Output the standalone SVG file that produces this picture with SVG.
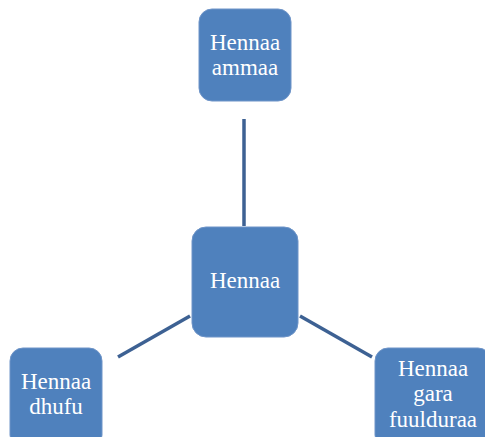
<svg xmlns="http://www.w3.org/2000/svg" width="485" height="437" viewBox="0 0 485 437">
<style>
.node{fill:#4f81bd;stroke:#6e94c8;stroke-width:1}
.lbl{font-family:"Liberation Serif","Times New Roman",serif;font-size:23px;fill:#ffffff;text-anchor:middle}
.conn{stroke:#3d6193;stroke-width:3.5;fill:none}
</style>
<rect width="485" height="437" fill="#ffffff"/>
<g id="connectors">
<line class="conn" x1="244" y1="119" x2="244" y2="226"/>
<line class="conn" x1="118" y1="357" x2="190" y2="316"/>
<line class="conn" x1="300" y1="316" x2="372" y2="357"/>
</g>
<g id="node-top">
<rect class="node" x="199" y="9" width="92" height="92" rx="13"/>
<text class="lbl" x="245" y="50">Hennaa</text>
<text class="lbl" x="245" y="75">ammaa</text>
</g>
<g id="node-center">
<rect class="node" x="192" y="227" width="106" height="110" rx="14"/>
<text class="lbl" x="245" y="288">Hennaa</text>
</g>
<g id="node-left">
<rect class="node" x="10" y="348" width="92" height="100" rx="13"/>
<text class="lbl" x="56" y="389">Hennaa</text>
<text class="lbl" x="56" y="414">dhufu</text>
</g>
<g id="node-right">
<rect class="node" x="375" y="348" width="116" height="100" rx="13"/>
<text class="lbl" x="433" y="376">Hennaa</text>
<text class="lbl" x="433" y="401">gara</text>
<text class="lbl" x="433" y="427">fuulduraa</text>
</g>
</svg>
